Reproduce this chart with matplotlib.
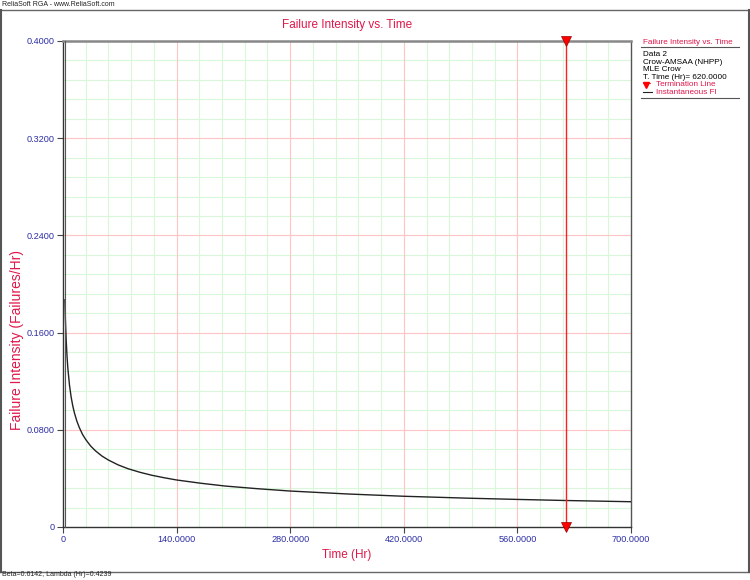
import numpy as np
import matplotlib.pyplot as plt
from matplotlib.lines import Line2D

plt.rcParams['font.family'] = ['Liberation Sans', 'DejaVu Sans']

# values (time in hours, failure intensity in failures/hr)
time_hr = [2.4, 3, 4, 5, 6, 8, 10, 12, 14, 17, 20, 24, 28, 34, 40, 48, 56, 68, 80,
           95, 110, 125, 140, 170, 200, 240, 280, 350, 420, 500, 560, 620, 700]
fi = [0.187, 0.1705, 0.1526, 0.1400, 0.1304, 0.1167, 0.1071, 0.0998, 0.0941,
      0.0873, 0.0820, 0.0763, 0.0720, 0.0667, 0.0627, 0.0584, 0.0551, 0.0511,
      0.0480, 0.0450, 0.0425, 0.0405, 0.0387, 0.0360, 0.0337, 0.0315, 0.0296,
      0.0272, 0.0253, 0.0237, 0.0227, 0.0218, 0.0208]
term_time = 620.0
x_ticks = [0, 140, 280, 420, 560, 700]
y_ticks = [0, 0.08, 0.16, 0.24, 0.32, 0.40]
x_tick_labels = ['0', '140.0000', '280.0000', '420.0000', '560.0000', '700.0000']
y_tick_labels = ['0', '0.0800', '0.1600', '0.2400', '0.3200', '0.4000']
legend_lines = ['Data 2', 'Crow-AMSAA (NHPP)', 'MLE Crow', 'T. Time (Hr)= 620.0000']

crimson = '#e0174a'
navy = '#2e2ea6'

W, H = 750, 580


def fx(px):
    return px / W


def fy(py):
    return 1 - py / H


fig = plt.figure(figsize=(7.5, 5.8), dpi=100)
ax = fig.add_axes([fx(63), fy(527), 568 / W, 486 / H])

ax.set_xlim(0, 700)
ax.set_ylim(0, 0.4)

# grid: green minor, red major
for v in np.arange(28, 700, 28):
    if v % 140:
        ax.axvline(v, color='#d9f7d9', lw=0.8, zorder=0)
for v in np.arange(1, 25) * 0.016:
    if round(v / 0.016) % 5:
        ax.axhline(v, color='#d9f7d9', lw=0.8, zorder=0)
for v in x_ticks[1:-1]:
    ax.axvline(v, color='#ffc4c4', lw=0.8, zorder=0.5)
for v in y_ticks[1:-1]:
    ax.axhline(v, color='#ffc4c4', lw=0.8, zorder=0.5)

ax.plot(time_hr, fi, color='#222222', lw=1.0, zorder=3)

# termination line
ax.axvline(term_time, color='#ff2020', lw=1.0, zorder=3)
ax.plot([term_time, term_time], [0.4, 0.0], linestyle='none', marker='v',
        markersize=7, color='#ff0000', markeredgecolor='#990000',
        markeredgewidth=0.5, clip_on=False, zorder=5)

ax.set_xticks(x_ticks)
ax.set_xticklabels(x_tick_labels)
ax.set_yticks(y_ticks)
ax.set_yticklabels(y_tick_labels)
ax.tick_params(labelsize=6.6, colors='#444444', labelcolor=navy, length=4, width=0.8,
               pad=2)

for s in ['left', 'bottom']:
    ax.spines[s].set_color('#333333')
    ax.spines[s].set_linewidth(1.0)
ax.spines['top'].set_color('#888888')
ax.spines['top'].set_linewidth(1.8)
ax.spines['right'].set_color('#555555')
ax.spines['right'].set_linewidth(1.0)

# second left edge line
fig.add_artist(Line2D([fx(65), fx(65)], [fy(527), fy(41)], color='#555555', lw=0.8))

fig.text(fx(347), fy(25), 'Failure Intensity vs. Time', color=crimson, fontsize=8.5,
         ha='center', va='center')
fig.text(fx(347), fy(555), 'Time (Hr)', color=crimson, fontsize=8.5,
         ha='center', va='center')
fig.text(fx(17), fy(340), 'Failure Intensity (Failures/Hr)', color=crimson,
         fontsize=10, ha='center', va='center', rotation=90)

# legend block on the right
lx = fx(643)
lfs = 5.9
fig.text(lx, fy(43), 'Failure Intensity vs. Time', color=crimson, fontsize=lfs,
         va='center')
fig.add_artist(Line2D([fx(641), fx(739)], [fy(47), fy(47)], color='#555555', lw=0.8))
for i, t in enumerate(legend_lines):
    fig.text(lx, fy(55 + 7.4 * i), t, color='black', fontsize=lfs, va='center')
fig.add_artist(Line2D([fx(646)], [fy(85)], marker='v', color='#ff0000',
                      markersize=4, linestyle='none'))
fig.add_artist(Line2D([fx(643), fx(650)], [fy(83), fy(83)], color='#ff0000', lw=0.6))
fig.text(fx(656), fy(84.6), 'Termination Line', color=crimson, fontsize=lfs,
         va='center')
fig.add_artist(Line2D([fx(643), fx(652)], [fy(92), fy(92)], color='#222222', lw=0.8))
fig.text(fx(656), fy(92), 'Instantaneous FI', color=crimson, fontsize=lfs,
         va='center')
fig.add_artist(Line2D([fx(641), fx(739)], [fy(97.5), fy(97.5)], color='#555555', lw=0.8))

# header, footer and frame
fig.text(fx(2), fy(4.5), 'ReliaSoft RGA - www.ReliaSoft.com', fontsize=5,
         color='#222222', va='center')
fig.add_artist(Line2D([0, 1], [fy(10), fy(10)], color='#666666', lw=1.0))
fig.text(fx(2), fy(575), 'Beta=0.6142, Lambda (Hr)=0.4239', fontsize=5,
         color='#222222', va='center')
fig.add_artist(Line2D([0, 1], [fy(571.5), fy(571.5)], color='#666666', lw=1.0))
fig.add_artist(Line2D([fx(1), fx(1)], [fy(571.5), fy(10)], color='#555555', lw=1.5))
fig.add_artist(Line2D([fx(748.5), fx(748.5)], [fy(571.5), fy(10)],
                      color='#555555', lw=1.5))

fig.savefig('out.png', dpi=100)
